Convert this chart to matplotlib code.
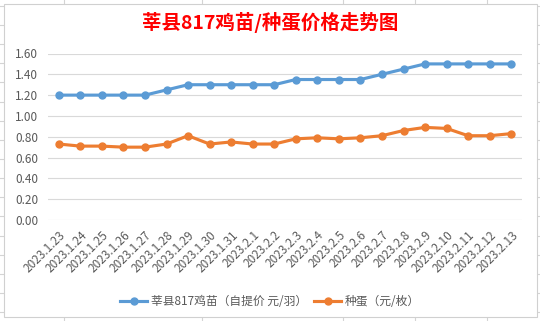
import matplotlib
matplotlib.use("Agg")
import matplotlib.pyplot as plt
from matplotlib.lines import Line2D
from matplotlib.patches import Rectangle

plt.rcParams['font.family'] = ['Noto Sans CJK SC', 'DejaVu Sans']

dates = ["2023.1.23", "2023.1.24", "2023.1.25", "2023.1.26", "2023.1.27", "2023.1.28",
         "2023.1.29", "2023.1.30", "2023.1.31", "2023.2.1", "2023.2.2", "2023.2.3",
         "2023.2.4", "2023.2.5", "2023.2.6", "2023.2.7", "2023.2.8", "2023.2.9",
         "2023.2.10", "2023.2.11", "2023.2.12", "2023.2.13"]
chick = [1.20, 1.20, 1.20, 1.20, 1.20, 1.25, 1.30, 1.30, 1.30, 1.30, 1.30, 1.35,
         1.35, 1.35, 1.35, 1.40, 1.45, 1.50, 1.50, 1.50, 1.50, 1.50]
egg = [0.73, 0.71, 0.71, 0.70, 0.70, 0.73, 0.81, 0.73, 0.75, 0.73, 0.73, 0.78,
       0.79, 0.78, 0.79, 0.81, 0.86, 0.89, 0.88, 0.81, 0.81, 0.83]
yticks = [0.0, 0.2, 0.4, 0.6, 0.8, 1.0, 1.2, 1.4, 1.6]

W, H = 540, 321
fig = plt.figure(figsize=(W / 100, H / 100), dpi=100)

# spreadsheet cell lines behind the chart
cell = "#D4D4D4"
for x in [64, 202, 343, 415, 487]:
    fig.add_artist(Line2D([x / W, x / W], [0, 1], color=cell, lw=0.8, zorder=0))
y = 5.9
while y < H:
    fig.add_artist(Line2D([0, 1], [1 - y / H, 1 - y / H], color=cell, lw=0.8, zorder=0))
    y += 19.14
fig.add_artist(Rectangle((3.5 / W, 1 - 316.5 / H), 533 / W, 313 / H, transform=fig.transFigure,
                         facecolor="white", edgecolor="#D0D0D0", lw=0.8, zorder=1))

ax = fig.add_axes([48 / W, 1 - 220 / H, 474 / W, 166.5 / H])
ax.set_zorder(2)
ax.patch.set_alpha(0)
x = range(len(dates))
ax.plot(x, chick, color="#5B9BD5", lw=2.25, marker="o", ms=5, label="莘县817鸡苗（自提价 元/羽）")
ax.plot(x, egg, color="#ED7D31", lw=2.25, marker="o", ms=5, label="种蛋（元/枚）")

ax.set_xlim(-0.5, len(dates) - 0.5)
ax.set_ylim(0, 1.6)
ax.set_yticks(yticks)
ax.set_yticklabels(["%.2f" % v for v in yticks])
ax.set_xticks(list(x))
ax.set_xticklabels(dates, rotation=45, ha="right", va="top", rotation_mode="anchor")
ax.grid(axis="y", color="#D9D9D9", lw=0.8)
ax.set_axisbelow(True)
for s in ax.spines.values():
    s.set_visible(False)
ax.tick_params(axis="y", length=0, pad=7, labelsize=8.5, labelcolor="#595959")
ax.tick_params(axis="x", length=0, pad=6, labelsize=8.5, labelcolor="#595959")

fig.text(0.5, 1 - 22.5 / H, "莘县817鸡苗/种蛋价格走势图", color="#FF0000", fontsize=14,
         fontweight="bold", ha="center", va="center", zorder=3)

leg = fig.legend(loc="center", bbox_to_anchor=(0.5, 1 - 301.5 / H), ncol=2, frameon=False,
                 fontsize=8.5, handlelength=2.3, handletextpad=0.3, columnspacing=0.6)
for t in leg.get_texts():
    t.set_color("#595959")
leg.set_zorder(3)

fig.savefig("out.png", dpi=100)
